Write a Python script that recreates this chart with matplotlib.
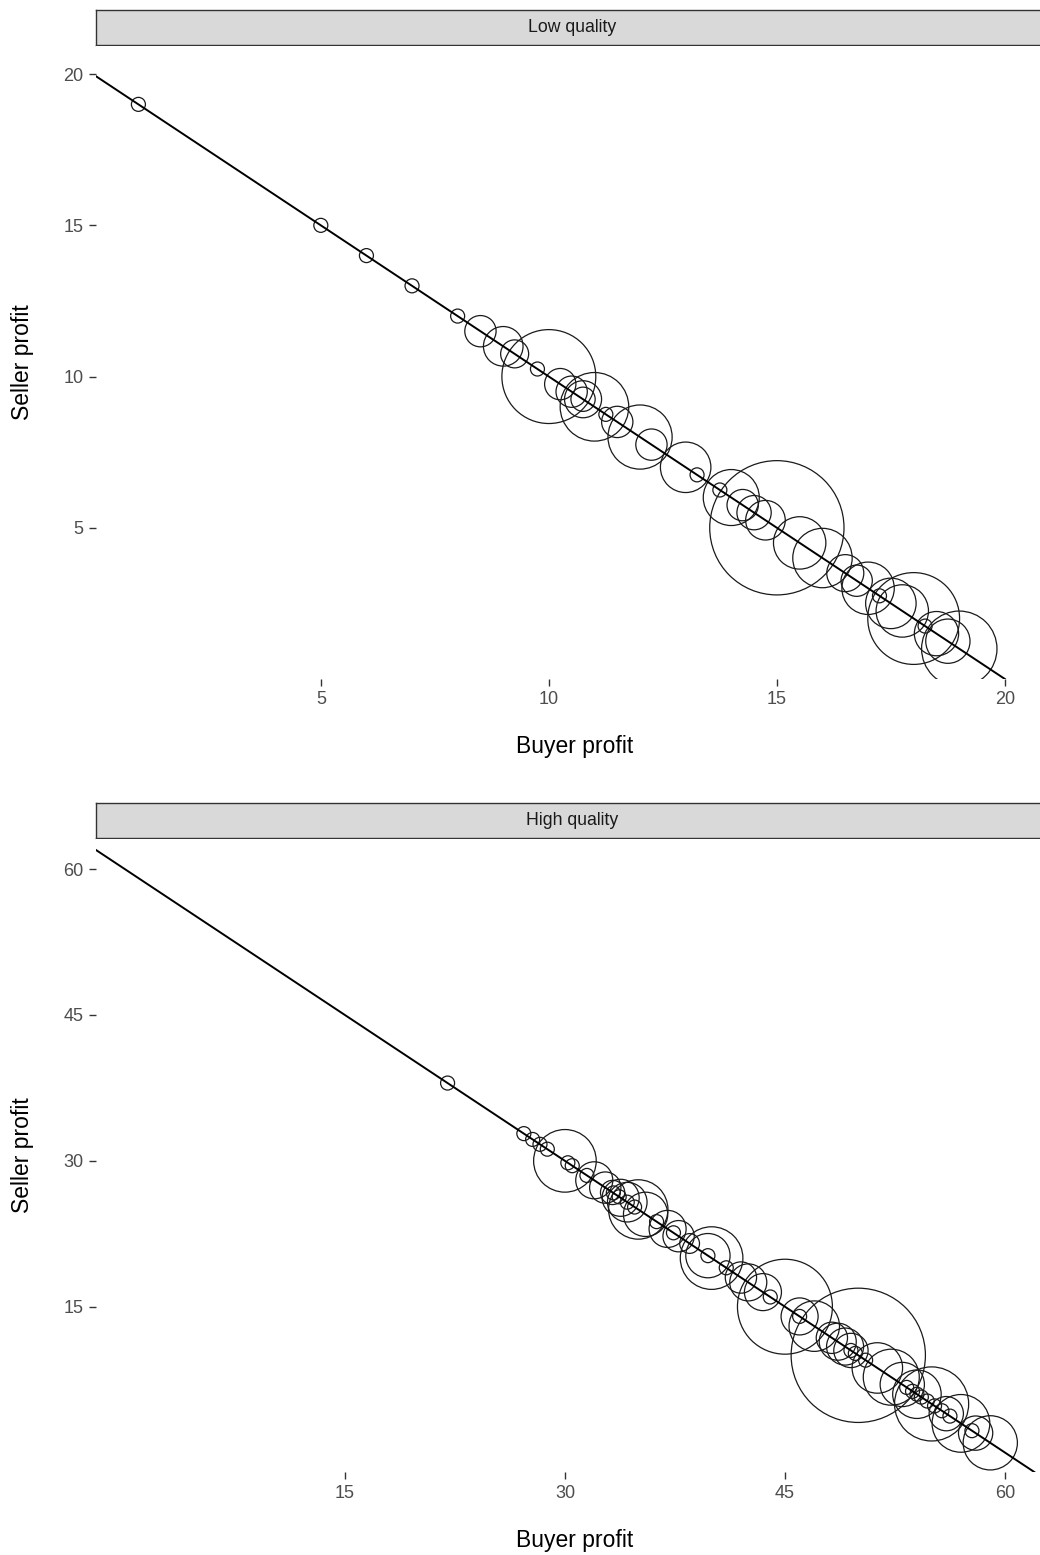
import matplotlib
matplotlib.use("Agg")
import matplotlib.pyplot as plt
import numpy as np

plt.rcParams["font.family"] = ["Liberation Sans", "DejaVu Sans"]

# Low quality: each deal's split of the 20-point surplus, with number of deals
low_buyer = [1, 5, 6, 7, 8, 8.5, 9, 9.25, 9.75, 10, 10.25, 10.5, 10.75, 10.75,
             11, 11.25, 11.5, 12, 12.25, 13, 13.25, 13.75, 14, 14.25, 14.5,
             14.75, 15, 15.5, 16, 16.5, 16.75, 17, 17.25, 17.5, 17.75, 18,
             18.25, 18.5, 18.75, 19]
low_seller = [19, 15, 14, 13, 12, 11.5, 11, 10.75, 10.25, 10, 9.75, 9.5, 9.25,
              9.25, 9, 8.75, 8.5, 8, 7.75, 7, 6.75, 6.25, 6, 5.75, 5.5, 5.25,
              5, 4.5, 4, 3.5, 3.25, 3, 2.75, 2.5, 2.25, 2, 1.75, 1.5, 1.25, 1]
low_count = [1, 1, 1, 1, 1, 5, 8, 4, 1, 45, 5, 5, 7, 3, 24, 1, 5, 21, 5, 13,
             1, 1, 16, 5, 6, 8, 92, 14, 18, 7, 5, 14, 1, 13, 14, 43, 1, 10,
             10, 29]

# High quality: 60-point surplus
high_buyer = [22, 27.2, 27.8, 28.3, 28.8, 30, 30.2, 30.5, 31.5, 32, 32.75,
              33.25, 33.3, 33.7, 33.8, 34.25, 34.25, 34.75, 35, 35.5, 36.25,
              37, 37.4, 37.75, 38.5, 40, 39.75, 39.75, 41, 42, 42.5, 43.5, 44,
              45, 46, 46, 47, 48.2, 48.6, 49.1, 49.5, 49.5, 49.8, 50, 50.5,
              51.3, 52.25, 53, 53.3, 53.7, 54, 54, 54.3, 54.7, 55, 55.2, 55.7,
              56, 56.25, 57, 57.75, 58, 59]
high_seller = [38, 32.8, 32.2, 31.7, 31.2, 30, 29.8, 29.5, 28.5, 28, 27.25,
               26.75, 26.7, 26.3, 26.2, 25.75, 25.75, 25.25, 25, 24.5, 23.75,
               23, 22.6, 22.25, 21.5, 20, 20.25, 20.25, 19, 18, 17.5, 16.5, 16,
               15, 14, 14, 13, 11.8, 11.4, 10.9, 10.5, 10.5, 10.2, 10, 9.5,
               8.7, 7.75, 7, 6.7, 6.3, 6, 6, 5.7, 5.3, 5, 4.8, 4.3, 4, 3.75,
               3, 2.25, 2, 1]
high_count = [1, 1, 1, 1, 1, 20, 1, 1, 1, 7, 5, 3, 1, 1, 7, 8, 1, 1, 18, 10,
              1, 7, 1, 5, 2, 20, 10, 1, 1, 5, 7, 7, 1, 46, 1, 7, 13, 5, 7, 7,
              6, 1, 1, 92, 1, 13, 16, 10, 1, 1, 1, 12, 1, 1, 28, 1, 1, 6, 1,
              17, 1, 6, 15]

low_ticks = [5, 10, 15, 20]
high_ticks = [15, 30, 45, 60]

W, H = 1040, 1555
fig = plt.figure(figsize=(W / 100, H / 100), dpi=100)


def px_box(left, top, right, bottom):
    return [left / W, 1 - bottom / H, (right - left) / W, (bottom - top) / H]


def draw_panel(top, title, buyer, seller, count, surplus, xlim, ylim, ticks):
    # facet strip (runs a little past the right edge of the canvas)
    strip = fig.add_axes(px_box(96, top, 1048, top + 35))
    strip.set_facecolor("#D9D9D9")
    strip.set_xticks([])
    strip.set_yticks([])
    for sp in strip.spines.values():
        sp.set_color("#333333")
        sp.set_linewidth(1.0)
    strip.text(0.5, 0.5, title, ha="center", va="center", fontsize=12.7,
               color="#1A1A1A", transform=strip.transAxes)

    bottom = top + 35 + 634
    ax = fig.add_axes(px_box(96, top + 36, 1040, bottom))
    ax.set_facecolor("white")
    ax.axline((0, surplus), slope=-1, color="black", lw=1.4, zorder=3)
    ax.scatter(buyer, seller, s=101.6 * np.asarray(count), facecolors="none",
               edgecolors="#1A1A1A", linewidths=0.9, zorder=2)
    ax.set_xlim(*xlim)
    ax.set_ylim(*ylim)
    ax.set_xticks(ticks)
    ax.set_yticks(ticks)
    ax.tick_params(direction="out", length=5, width=1.0, color="#333333",
                   labelsize=13, labelcolor="#4D4D4D", pad=4)
    for sp in ax.spines.values():
        sp.set_visible(False)

    fig.text(575 / W, 1 - (bottom + 68) / H, "Buyer profit", ha="center",
             va="center", fontsize=16.5, color="black")
    fig.text(22 / W, 1 - ((top + 36 + bottom) / 2) / H, "Seller profit",
             ha="center", va="center", rotation=90, fontsize=16.5,
             color="black")
    return ax


draw_panel(10, "Low quality", low_buyer, low_seller, low_count, 20,
           (0.07, 20.77), (0.0, 20.93), low_ticks)
draw_panel(803, "High quality", high_buyer, high_seller, high_count, 60,
           (-1.97, 62.39), (-2.0, 63.1), high_ticks)

fig.savefig("out.png", dpi=100)
